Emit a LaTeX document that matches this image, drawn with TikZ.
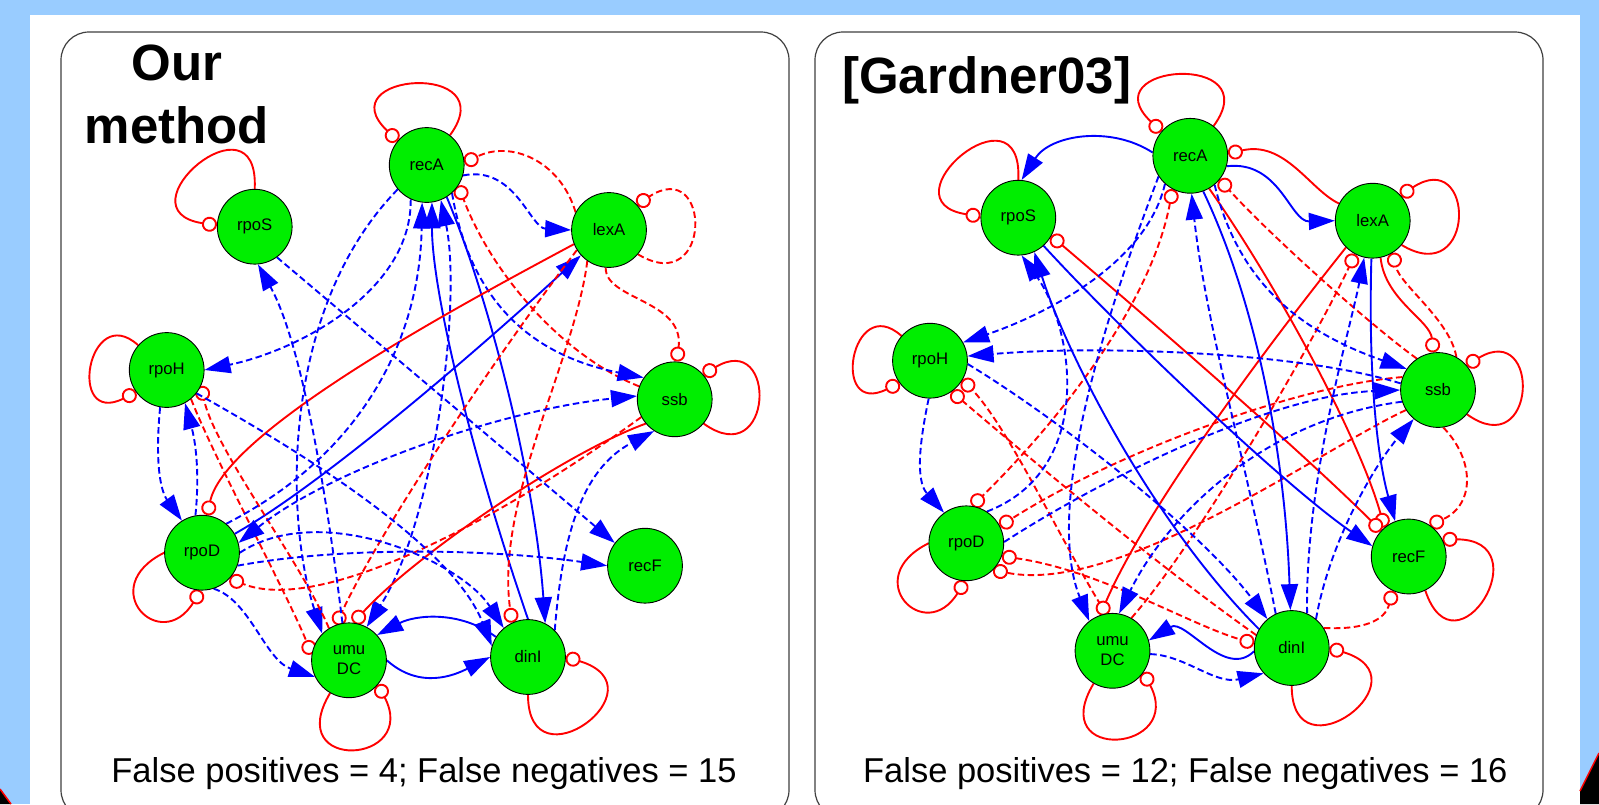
\documentclass[tikz,border=0pt]{standalone}
\usepackage{fontspec}
\setmainfont{Liberation Sans}
\usetikzlibrary{arrows.meta}
\definecolor{sky}{HTML}{99CCFF}
\definecolor{genegreen}{HTML}{00EE00}
\definecolor{pblue}{HTML}{0000FF}
\definecolor{pred}{HTML}{FF0000}
\pgfdeclarelayer{bg}
\pgfdeclarelayer{edges}
\pgfsetlayers{bg,edges,main}

\begin{document}
\begin{tikzpicture}[x=1pt,y=-1pt,
  gene/.style={circle, draw=black, line width=0.9pt, fill=genegreen,
    minimum size=74.8pt, inner sep=0pt,
    font=\fontsize{16.7}{19.7}\selectfont, align=center},
  act/.style={draw=pblue, line width=1.9pt, -{Triangle[length=26pt,width=17pt]}},
  actb/.style={draw=pblue, line width=1.9pt,
    {Triangle[length=26pt,width=17pt]}-{Triangle[length=26pt,width=17pt]}},
  inh/.style={draw=pred, line width=1.9pt, -{Circle[length=15pt,width=15pt,fill=white]}},
  inhb/.style={draw=pred, line width=1.9pt,
    {Circle[length=15pt,width=15pt,fill=white]}-{Circle[length=15pt,width=15pt,fill=white]}},
  dsh/.style={dash pattern=on 6.5pt off 3.5pt},
  panel/.style={draw=black!75, line width=1.2pt, fill=white, rounded corners=28pt},
  title/.style={font={\fontsize{51}{60}\selectfont\bfseries}, inner sep=0pt},
  score/.style={font=\fontsize{34.5}{40}\selectfont, inner sep=0pt, anchor=base},
]
\useasboundingbox (0,0) rectangle (1599,804);

% ---------- page background and the two panels ----------
\begin{pgfonlayer}{bg}
  \fill[sky] (0,0) rectangle (1599,804);
  \fill[white] (30,15) rectangle (1580,804);
  \fill[black] (0,789) -- (11,804) -- (0,804) -- cycle;
  \draw[pred, line width=1.5pt] (0,789) -- (11,804);
  \fill[black] (1580,791) -- (1599,753) -- (1599,804) -- (1580,804) -- cycle;
  \draw[pred, line width=1.5pt] (1580,791) -- (1599,753);
  \path[panel] (61,32) rectangle (789,818);
  \path[panel] (815,32) rectangle (1543,818);
\end{pgfonlayer}

% ---------- titles and scores ----------
\node[title, anchor=base] (tOur) at (177,80.7) {Our};
\node[title, anchor=base] (tMethod) at (177,143.3) {method};
\node[title, anchor=base west] (tGard) at (842,93) {[Gardner03]};
\node[score] (sLeft) at (424,782.7) {False positives = 4; False negatives = 15};
\node[score] (sRight) at (1185.3,782.7) {False positives = 12; False negatives = 16};

% ---------- genes, left network ----------
\node[gene] (lA) at (426.7,165) {recA};
\node[gene] (lS) at (254.7,226.7) {rpoS};
\node[gene] (lL) at (609,230) {lexA};
\node[gene] (lH) at (166.7,370) {rpoH};
\node[gene] (lB) at (674.7,399.3) {ssb};
\node[gene] (lD) at (202,552.7) {rpoD};
\node[gene] (lF) at (645,565.7) {recF};
\node[gene] (lU) at (349,660.3) {umu\\DC};
\node[gene] (lI) at (528,657) {dinI};

% ---------- genes, right network ----------
\node[gene] (rA) at (1190.3,155.8) {recA};
\node[gene] (rS) at (1018.3,217.7) {rpoS};
\node[gene] (rL) at (1372.7,220.7) {lexA};
\node[gene] (rH) at (930,360.7) {rpoH};
\node[gene] (rB) at (1438,390) {ssb};
\node[gene] (rD) at (966.3,543.3) {rpoD};
\node[gene] (rF) at (1408.7,556.5) {recF};
\node[gene] (rU) at (1112.5,650.8) {umu\\DC};
\node[gene] (rI) at (1291.7,648) {dinI};

\begin{pgfonlayer}{edges}
% ===== left network: self loops =====
\draw[inh] (lA.52) .. controls +(55,-75) and +(-72,-68) .. (lA.140);
\draw[inh] (lS.90) .. controls +(5,-100) and +(-100,-15) .. (lS.178);
\draw[inh,dsh] (lL.-40) .. controls +(75,45) and +(75,-50) .. (lL.42);
\draw[inh] (lH.139) .. controls +(-50,-45) and +(-70,35) .. (lH.216);
\draw[inh] (lB.-40) .. controls +(70,50) and +(75,-45) .. (lB.41);
\draw[inh] (lD.180) .. controls +(-70,35) and +(-40,65) .. (lD.-92);
\draw[inh] (lU.-120) .. controls +(-48,80) and +(42,80) .. (lU.-40);
\draw[inh] (lI.-90) .. controls +(0,95) and +(100,30) .. (lI.0);

% ===== left network: interactions =====
\draw[inh,dsh] (lL.152) .. controls (560,160) and (510,140) .. (lA.3);
\draw[act,dsh] (lA.-16) .. controls (515,165) and (530,228) .. (lL.180);
\draw[inh,dsh] (lB.160) .. controls (560,355) and (490,270) .. (lA.-33);
\draw[act,dsh] (lA.-48) .. controls (470,300) and (530,355) .. (lB.145);
\draw[act,dsh] (lA.-115) .. controls (412,290) and (300,350) .. (lH.0);
\draw[act,dsh] (lA.-140) .. controls (280,310) and (285,520) .. (lU.135);
\draw[actb,dsh] (lA.-68) .. controls (462,300) and (435,520) .. (lU.62);
\draw[act] (lI.90) .. controls (470,450) and (432,290) .. (lA.-82);
\draw[act] (lA.-58) .. controls (490,300) and (535,480) .. (lI.63);
\draw[act] (lD.30) .. controls (330,480) and (500,330) .. (lL.-138);
\draw[inh] (lL.-158) .. controls (470,300) and (225,430) .. (lD.82);
\draw[inh,dsh] (lL.-148) .. controls (500,350) and (380,530) .. (lU.110);
\draw[inh,dsh] (lL.-125) .. controls (575,360) and (495,500) .. (lI.115);
\draw[inh,dsh] (lL.-95) .. controls (605,300) and (685,300) .. (lB.87);
\draw[inh] (lB.-140) .. controls (560,455) and (410,560) .. (lU.83);
\draw[inh,dsh] (lB.-152) .. controls (500,520) and (320,615) .. (lD.-43);
\draw[inh,dsh] (lU.122) .. controls (300,560) and (215,450) .. (lH.-25);
\draw[inh,dsh] (lH.-50) .. controls (215,460) and (290,600) .. (lU.171);
\draw[act,dsh] (lS.-54) -- (lF.143);
\draw[act,dsh] (lU.100) .. controls (325,480) and (300,340) .. (lS.-85);
\draw[act,dsh] (lH.-100) .. controls (155,460) and (160,490) .. (lD.122);
\draw[act,dsh] (lD.100) .. controls (200,470) and (195,440) .. (lH.-61);
\draw[act,dsh] (lH.-38) .. controls (280,440) and (450,540) .. (lI.163);
\draw[act,dsh] (lD.0) .. controls (320,500) and (460,560) .. (lI.130);
\draw[act,dsh] (lD.-20) .. controls (350,545) and (500,550) .. (lF.180);
\draw[act,dsh] (lD.-72) .. controls (250,600) and (265,660) .. (lU.206);
\draw[act] (lU.0) .. controls (420,690) and (455,675) .. (lI.180);
\draw[act] (lI.148) .. controls (460,610) and (415,615) .. (lU.42);
\draw[act,dsh] (lI.45) .. controls (562,540) and (580,470) .. (lB.-123);
\draw[actb,dsh] (lD.15) .. controls (330,470) and (500,410) .. (lB.175);
\draw[act,dsh] (lD.50) .. controls (370,450) and (420,330) .. (lA.-97);

% ===== right network: self loops =====
\draw[inh] (rA.52) .. controls +(55,-75) and +(-72,-68) .. (rA.140);
\draw[inh] (rS.90) .. controls +(5,-100) and +(-100,-15) .. (rS.178);
\draw[inh] (rL.-40) .. controls +(75,45) and +(75,-50) .. (rL.42);
\draw[inh] (rH.139) .. controls +(-50,-45) and +(-70,35) .. (rH.216);
\draw[inh] (rB.-40) .. controls +(70,50) and +(75,-45) .. (rB.41);
\draw[inh] (rD.180) .. controls +(-70,35) and +(-40,65) .. (rD.-92);
\draw[inh] (rU.-120) .. controls +(-48,80) and +(42,80) .. (rU.-35);
\draw[inh] (rI.-90) .. controls +(0,95) and +(100,30) .. (rI.0);
\draw[inh] (rF.-64) .. controls +(30,90) and +(100,0) .. (rF.27);

% ===== right network: interactions =====
\draw[act] (rA.175) .. controls (1110,125) and (1050,135) .. (rS.85);
\draw[inh] (rL.153) .. controls (1310,190) and (1285,140) .. (rA.3);
\draw[act] (rA.-16) .. controls (1280,160) and (1290,222) .. (rL.180);
\draw[inh,dsh] (rB.124) .. controls (1370,325) and (1270,235) .. (rA.-39);
\draw[inhb,dsh] (rA.-118) .. controls (1150,310) and (1050,430) .. (rD.81);
\draw[inh,dsh] (rB.160) .. controls (1300,385) and (1120,450) .. (rD.27);
\draw[inh,dsh] (rB.-148) .. controls (1320,450) and (1120,595) .. (rD.-45);
\draw[inhb,dsh] (rD.-20) .. controls (1100,570) and (1190,625) .. (rI.173);
\draw[inh,dsh] (rI.160) .. controls (1150,560) and (1020,450) .. (rH.-55);
\draw[inh,dsh] (rU.100) .. controls (1060,540) and (1010,430) .. (rH.-30);
\draw[inh] (rL.-135) .. controls (1280,330) and (1150,500) .. (rU.109);
\draw[inh,dsh] (rU.60) .. controls (1200,540) and (1320,330) .. (rL.-118);
\draw[inh] (rL.-78) .. controls (1385,300) and (1430,320) .. (rB.97);
\draw[inh,dsh] (rB.61) .. controls (1450,320) and (1400,285) .. (rL.-58);
\draw[inh] (rA.-60) .. controls (1280,290) and (1360,440) .. (rF.130);
\draw[inhb] (rS.-29) .. controls (1150,320) and (1300,450) .. (rF.137);
\draw[act] (rS.-48) .. controls (1130,340) and (1290,490) .. (rF.164);
\draw[act] (rI.150) .. controls (1150,520) and (1065,350) .. (rS.-65);
\draw[act] (rA.-70) .. controls (1255,300) and (1285,450) .. (rI.92);
\draw[act] (rL.-92) .. controls (1368,380) and (1378,460) .. (rF.111);
\draw[act] (rI.185) .. controls (1225,680) and (1185,618) .. (rU.16);
\draw[act,dsh] (rU.-5) .. controls (1185,655) and (1215,685) .. (rI.222);
\draw[act,dsh] (rA.-132) .. controls (1145,270) and (1030,320) .. (rH.29);
\draw[act,dsh] (rA.-147) .. controls (1100,330) and (1045,510) .. (rU.128);
\draw[act,dsh] (rA.-50) .. controls (1240,290) and (1310,335) .. (rB.146);
\draw[act,dsh] (rI.115) .. controls (1250,480) and (1205,320) .. (rA.-88);
\draw[act,dsh] (rI.66) .. controls (1305,480) and (1350,330) .. (rL.-103);
\draw[act,dsh] (rI.50) .. controls (1330,540) and (1375,465) .. (rB.-130);
\draw[act,dsh] (rB.170) .. controls (1300,352) and (1100,345) .. (rH.7);
\draw[act,dsh] (rH.-92) .. controls (920,440) and (915,480) .. (rD.126);
\draw[act,dsh] (rH.-5) .. controls (1060,420) and (1200,530) .. (rI.130);
\draw[act,dsh] (rD.2) .. controls (1100,480) and (1270,395) .. (rB.180);
\draw[act,dsh] (rB.-162) .. controls (1260,420) and (1165,520) .. (rU.80);
\draw[act,dsh] (rD.57) .. controls (1095,470) and (1075,330) .. (rS.-85);
\draw[inh,dsh] (rB.-82) .. controls (1475,460) and (1475,505) .. (rF.56);
\draw[inh,dsh] (rI.32) .. controls (1365,630) and (1385,620) .. (rF.-115);
\end{pgfonlayer}
\end{tikzpicture}
\end{document}
